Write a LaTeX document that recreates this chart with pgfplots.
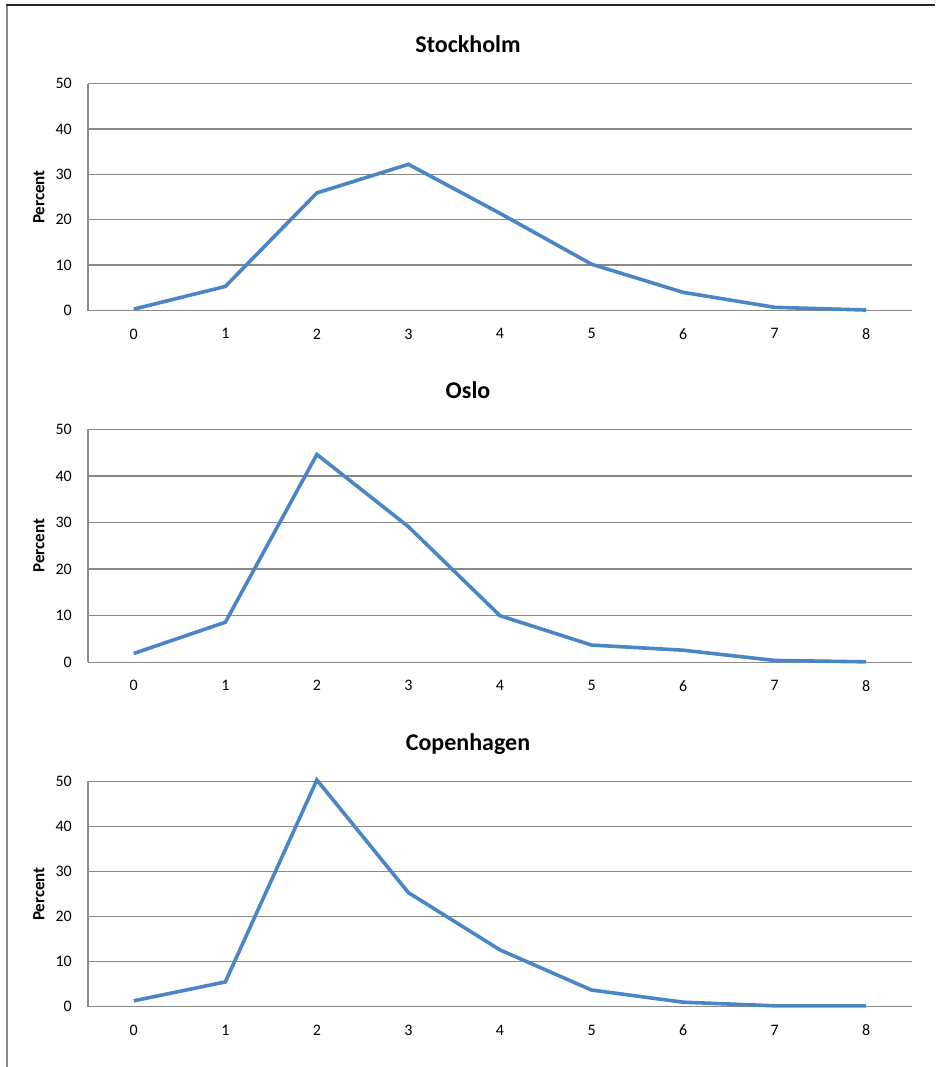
\documentclass[border=0pt]{standalone}
\usepackage{pgfplots}
\pgfplotsset{compat=1.18}
\usepackage{fontspec}
\setmainfont{Carlito}
\definecolor{serblue}{RGB}{74,134,197}
\definecolor{gridgray}{RGB}{137,137,137}

\pgfplotstableread{
x y
0 0.3
1 5.3
2 25.9
3 32.2
4 21.4
5 10.2
6 4.0
7 0.7
8 0.1
}\stockholm

\pgfplotstableread{
x y
0 1.9
1 8.6
2 44.6
3 29.1
4 10.0
5 3.7
6 2.6
7 0.4
8 0.1
}\oslo

\pgfplotstableread{
x y
0 1.3
1 5.5
2 50.3
3 25.3
4 12.6
5 3.7
6 1.0
7 0.2
8 0.2
}\copenhagen

\pgfplotsset{
  panel/.style={
    scale only axis,
    width=824pt,
    anchor=south west,
    xmin=-0.5, xmax=8.5,
    ymin=0, ymax=50,
    xtick={0,1,...,8},
    ytick={0,10,...,50},
    axis lines=left,
    axis line style={-, draw=gridgray, line width=1.4pt},
    ymajorgrids,
    grid style={draw=gridgray, line width=1.4pt},
    major tick length=0pt,
    clip=false,
    /pgf/number format/assume math mode=true,
    ticklabel style={font=\fontsize{16}{19}\selectfont, inner sep=0pt},
    yticklabel style={anchor=east, xshift=-16pt},
    xticklabel style={anchor=north, yshift=-18pt},
    ylabel={Percent},
    ylabel style={font=\fontsize{17}{20}\selectfont\bfseries, at={(axis description cs:-0.0595,0.5)}, anchor=center},
    title style={font=\fontsize{24}{28}\selectfont\bfseries, anchor=base, inner sep=0pt, at={(axis description cs:0.5,1)}, xshift=-32pt, yshift=25pt},
  },
  serline/.style={color=serblue, line width=3.6pt, line join=miter, mark=none},
}

\begin{document}
\begin{tikzpicture}
\useasboundingbox (0pt,0pt) rectangle (935pt,-1067pt);
\draw[color=gridgray, line width=1.6pt] (7pt,-5pt) -- (7pt,-1067pt);
\draw[color=black!85, line width=1.6pt] (6.2pt,-5pt) -- (935pt,-5pt);

\begin{axis}[panel, at={(88pt,-310.5pt)}, height=227pt, title={Stockholm}]
\addplot[serline] table[x=x,y=y] {\stockholm};
\end{axis}

\begin{axis}[panel, at={(88pt,-662.3pt)}, height=233pt, title={Oslo}]
\addplot[serline] table[x=x,y=y] {\oslo};
\end{axis}

\begin{axis}[panel, at={(88pt,-1006.7pt)}, height=225.4pt, title={Copenhagen}]
\addplot[serline] table[x=x,y=y] {\copenhagen};
\end{axis}
\end{tikzpicture}
\end{document}
